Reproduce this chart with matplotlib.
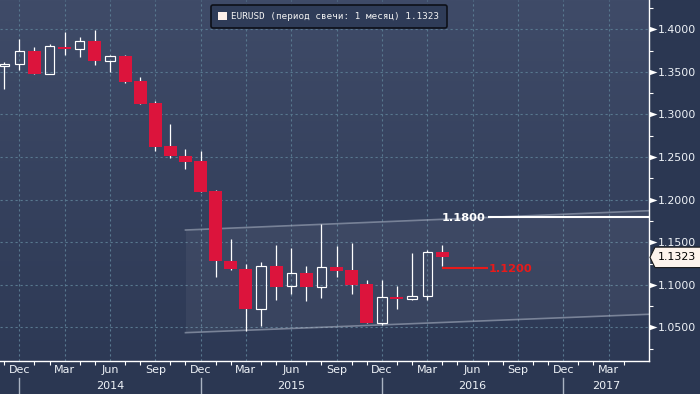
import matplotlib
matplotlib.use("Agg")
import matplotlib.pyplot as plt
import matplotlib.transforms as mtransforms
from matplotlib.patches import Polygon, Patch
from matplotlib.path import Path
import numpy as np
import pandas as pd

# ============================================================
# data: EURUSD monthly candles, Nov 2013 .. Apr 2016
# ============================================================
months = pd.period_range("2013-11", "2016-04", freq="M")
opens  = [1.3572, 1.3589, 1.3742, 1.3479, 1.3790, 1.3768, 1.3859, 1.3631,
          1.3687, 1.3390, 1.3131, 1.2630, 1.2513, 1.2451, 1.2102, 1.1277,
          1.1183, 1.0721, 1.1218, 1.0984, 1.1140, 1.0971, 1.1206, 1.1171,
          1.1011, 1.0556, 1.0855, 1.0831, 1.0866, 1.1390]
highs  = [1.3617, 1.3886, 1.3792, 1.3827, 1.3968, 1.3910, 1.3992, 1.3698,
          1.3700, 1.3437, 1.3158, 1.2889, 1.2595, 1.2572, 1.2114, 1.1539,
          1.1245, 1.1269, 1.1465, 1.1433, 1.1218, 1.1715, 1.1457, 1.1492,
          1.1054, 1.1054, 1.0987, 1.1374, 1.1410, 1.1468]
lows   = [1.3300, 1.3526, 1.3477, 1.3477, 1.3702, 1.3679, 1.3585, 1.3502,
          1.3373, 1.3125, 1.2575, 1.2493, 1.2364, 1.2094, 1.1096, 1.1175,
          1.0463, 1.0521, 1.0826, 1.0897, 1.0815, 1.0850, 1.1096, 1.0897,
          1.0556, 1.0529, 1.0721, 1.0819, 1.0819, 1.1225]
closes = [1.3589, 1.3742, 1.3479, 1.3800, 1.3768, 1.3859, 1.3631, 1.3683,
          1.3385, 1.3127, 1.2622, 1.2516, 1.2446, 1.2094, 1.1284, 1.1187,
          1.0721, 1.1218, 1.0979, 1.1140, 1.0979, 1.1206, 1.1167, 1.1002,
          1.0556, 1.0855, 1.0831, 1.0866, 1.1383, 1.1323]

last_price = 1.1323
legend_label = "EURUSD (период свечи: 1 месяц) 1.1323"

# horizontal levels drawn on the chart
level_hi = 1.1800
level_lo = 1.1200

# trend channel (month index from Dec 2013, price)
chan_x     = [11, 41.7]
chan_upper = [1.1644, 1.1871]
chan_lower = [1.0439, 1.0655]

price_levels = np.round(np.arange(1.05, 1.4001, 0.05), 4)
years = ["2014", "2015", "2016", "2017"]

# ============================================================
# styling
# ============================================================
RED = "#dc143c"
TXT = "#eef2f7"
GRID = "#58788f"
BG_TOP = np.array([0x3f, 0x4b, 0x68]) / 255
BG_BOT = np.array([0x2d, 0x39, 0x55]) / 255

base = pd.Period("2013-12", freq="M")
x = np.array([(p - base).n for p in months])
o = np.array(opens); h = np.array(highs); l = np.array(lows); c = np.array(closes)

XMIN, XMAX = -1.277, 41.66
YMIN, YMAX = 1.0110, 1.4344

fig = plt.figure(figsize=(7, 3.94), dpi=100, facecolor="#2b3752")
ax = fig.add_axes([0, 0.0845, 0.9267, 0.9155])
ax.set_xlim(XMIN, XMAX)
ax.set_ylim(YMIN, YMAX)

# gradient background
grad = np.linspace(0, 1, 256)[:, None, None]
img = BG_TOP * (1 - grad) + BG_BOT * grad
ax.imshow(img, extent=[0, 1, 0, 1], transform=ax.transAxes, aspect="auto", zorder=0)

# grid
ax.set_axisbelow(True)
ax.grid(True, which="major", color=GRID, linestyle=(0, (2, 2.5)), linewidth=0.8)

# channel
cx = np.array(chan_x)
ax.fill_between(cx, chan_lower, chan_upper, color="white", alpha=0.05, linewidth=0, zorder=1)
ax.plot(cx, chan_upper, color="#b0b8c8", alpha=0.55, lw=1.2, zorder=2)
ax.plot(cx, chan_lower, color="#b0b8c8", alpha=0.55, lw=1.2, zorder=2)

# candles
up = c >= o
dn = ~up
ax.vlines(x[dn], l[dn], h[dn], color="white", lw=0.9, zorder=3)
ax.bar(x[dn], (o - c)[dn], bottom=c[dn], width=0.86, color=RED, linewidth=0, zorder=4)
ax.vlines(x[up], l[up], o[up], color="white", lw=0.9, zorder=3)
ax.vlines(x[up], c[up], h[up], color="white", lw=0.9, zorder=3)
ax.bar(x[up], (c - o)[up], bottom=o[up], width=0.62, facecolor="none",
       edgecolor="white", linewidth=0.85, zorder=4)

# level lines
ax.hlines(level_hi, 31, XMAX, color="white", lw=1.5, zorder=5)
ax.annotate(f"{level_hi:.4f}", (31, level_hi), xytext=(-1.5, 0), textcoords="offset points",
            ha="right", va="center_baseline", color="white", fontsize=8.2, fontweight="bold", zorder=6)
ax.hlines(level_lo, x[-1], 31, color="#e81a1a", lw=1.5, zorder=5)
ax.annotate(f"{level_lo:.4f}", (31, level_lo), xytext=(0.5, 0), textcoords="offset points",
            ha="left", va="center_baseline", color="#e81a1a", fontsize=8.2, fontweight="bold", zorder=6)

# x axis: month labels every quarter, minor ticks every month
all_months = pd.period_range("2013-11", "2017-04", freq="M")
mx = np.array([(p - base).n for p in all_months])
lab = mx % 3 == 0
ax.set_xticks(mx[lab])
ax.set_xticklabels([p.strftime("%b") for p, f in zip(all_months, lab) if f])
ax.set_xticks(mx[~lab], minor=True)
ax.tick_params(axis="x", which="major", length=0, pad=3, labelsize=8, labelcolor=TXT)
ax.tick_params(axis="x", which="minor", length=3, width=0.8, color="white", direction="out")

bx = mtransforms.blended_transform_factory(ax.transData, ax.transAxes)
seps = [0, 12, 24, 36]
for s, yr in zip(seps, years):
    ax.plot([s, s], [-0.048, -0.1], transform=bx, color="#aab3c2", lw=1.0, clip_on=False)
    mid = (s + min(s + 12, XMAX)) / 2
    ax.text(mid, -0.071, yr, transform=bx, ha="center", va="center", fontsize=8, color=TXT)

# y axis on the right
ax.yaxis.tick_right()
ax.set_yticks(price_levels)
ax.set_yticklabels([f"{v:.4f}" for v in price_levels])
ax.set_yticks(np.round(np.arange(1.025, 1.44, 0.05), 4), minor=True)
ax.tick_params(axis="y", which="major", length=0, pad=6.8, labelsize=7.9, labelcolor=TXT)
ax.tick_params(axis="y", which="minor", length=3, width=0.8, color="white", direction="out")

by = mtransforms.blended_transform_factory(ax.transAxes, ax.transData)
tri = Path([(0, -0.35), (1, 0), (0, 0.35), (0, -0.35)],
           [Path.MOVETO, Path.LINETO, Path.LINETO, Path.CLOSEPOLY])
ax.plot(np.ones(len(price_levels)), price_levels, transform=by, ls="none",
        marker=tri, markersize=11.5, color="white", markeredgewidth=0, clip_on=False, zorder=8)

for side in ["left", "top"]:
    ax.spines[side].set_visible(False)
for side in ["right", "bottom"]:
    ax.spines[side].set_color("white")
    ax.spines[side].set_linewidth(1.0)

# last price tag
hh = 0.012
tag = Polygon([(1.002, last_price), (1.0097, last_price + hh), (1.08, last_price + hh),
               (1.08, last_price - hh), (1.0097, last_price - hh)],
              closed=True, transform=by, facecolor="#fdf3ec", edgecolor="#1a1a1a",
              lw=0.8, clip_on=False, zorder=9)
ax.add_patch(tag)
ax.text(1.0135, last_price, f"{last_price:.4f}", transform=by, ha="left", va="center",
        fontsize=7.9, color="black", zorder=10, clip_on=False)

# legend box
handle = Patch(facecolor="#fdf0ea", edgecolor="none")
leg = ax.legend([handle], [legend_label], loc="upper left",
                bbox_to_anchor=(211 / 700, 1 - 5 / 394), bbox_transform=fig.transFigure,
                prop={"family": "DejaVu Sans Mono", "size": 6.7},
                frameon=True, fancybox=True, facecolor="#2f3c58", edgecolor="#0d1018",
                framealpha=1, borderpad=0.75, handlelength=1.0, handleheight=1.0,
                handletextpad=0.45, borderaxespad=0)
for t in leg.get_texts():
    t.set_color("#f2f2f2")
leg.get_frame().set_linewidth(1.2)
leg.set_zorder(12)

fig.savefig("out.png", dpi=100, facecolor=fig.get_facecolor())
